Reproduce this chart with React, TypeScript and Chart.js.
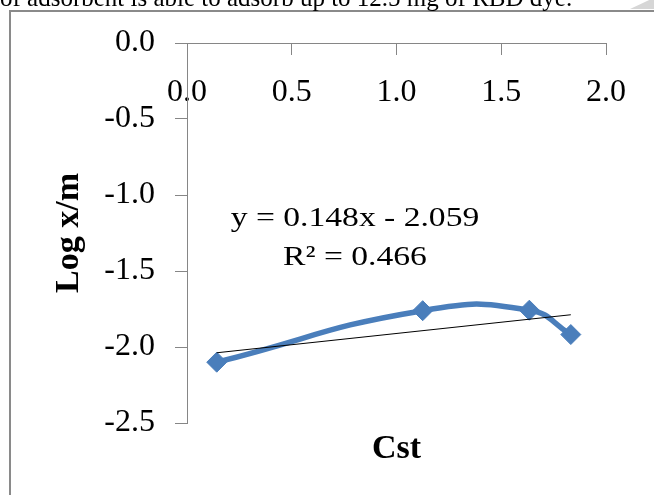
import React, { useEffect, useRef } from "react";
import { Chart, registerables } from "chart.js";

Chart.register(...registerables);

// ---- data ----
const cstValues = [0.142, 1.125, 1.634, 1.832];
const logXmValues = [-2.1, -1.761, -1.758, -1.918];
const xTickValues = [0, 0.5, 1.0, 1.5, 2.0];
const yTickValues = [0, -0.5, -1.0, -1.5, -2.0, -2.5];
const trendSlope = 0.148;
const trendIntercept = -2.059;
const equationText = "y = 0.148x - 2.059";
const rSquaredText = "R\u00B2 = 0.466";
const xTitle = "Cst";
const yTitle = "Log x/m";
const captionText = "of adsorbent is able to adsorb up to 12.5 mg of RBD dye.";

const SERIF = "'Liberation Serif', 'Times New Roman', serif";
const AXIS_GRAY = "#868686";
const BLUE = "#4A7EBB";

const textPlugin = {
  id: "extraTexts",
  afterDraw(chart: any) {
    const { ctx, chartArea } = chart;
    ctx.save();
    ctx.fillStyle = "#000";
    // caption (cut off at top of page)
    ctx.font = `25px ${SERIF}`;
    ctx.textAlign = "left";
    ctx.textBaseline = "alphabetic";
    ctx.fillText(captionText, 0, 6);

    // x title
    ctx.font = `bold 34px ${SERIF}`;
    ctx.textAlign = "center";
    ctx.fillText(xTitle, (chartArea.left + chartArea.right) / 2, 458);

    // y title
    ctx.save();
    ctx.translate(78, (chartArea.top + chartArea.bottom) / 2);
    ctx.rotate(-Math.PI / 2);
    ctx.fillText(yTitle, 0, 0);
    ctx.restore();

    // trendline equation
    ctx.font = `28px ${SERIF}`;
    ctx.textAlign = "center";
    const cx = 355;
    ctx.save();
    ctx.translate(cx, 226);
    ctx.scale(1.2, 1);
    ctx.fillText(equationText, 0, 0);
    ctx.restore();
    ctx.save();
    ctx.translate(cx, 265);
    ctx.scale(1.2, 1);
    ctx.fillText(rSquaredText, 0, 0);
    ctx.restore();

    ctx.restore();
  },
};

export default function App() {
  const canvasRef = useRef<HTMLCanvasElement | null>(null);

  useEffect(() => {
    if (!canvasRef.current) return;
    const xMin = Math.min(...cstValues);
    const xMax = Math.max(...cstValues);
    const trendData = [
      { x: xMin, y: trendSlope * xMin + trendIntercept },
      { x: xMax, y: trendSlope * xMax + trendIntercept },
    ];
    const points = cstValues.map((x, i) => ({ x, y: logXmValues[i] }));

    const chart = new Chart(canvasRef.current, {
      type: "scatter",
      data: {
        datasets: [
          {
            label: "Linear",
            data: trendData,
            showLine: true,
            borderColor: "#000",
            borderWidth: 1,
            pointRadius: 0,
            tension: 0,
            order: 0,
          },
          {
            label: "Log x/m",
            data: points,
            showLine: true,
            borderColor: BLUE,
            backgroundColor: BLUE,
            borderWidth: 5.5,
            pointStyle: "rectRot",
            pointRadius: 10,
            pointBorderWidth: 1,
            pointBorderColor: BLUE,
            pointBackgroundColor: BLUE,
            tension: 0.5,
            order: 1,
          },
        ],
      },
      options: {
        animation: false,
        responsive: false,
        maintainAspectRatio: false,
        layout: { padding: { left: 0, top: 43, right: 48, bottom: 72 } },
        plugins: {
          legend: { display: false },
          tooltip: { enabled: false },
          title: { display: false },
        },
        scales: {
          x: {
            type: "linear",
            min: 0,
            max: 2,
            position: { y: 0 } as any,
            afterBuildTicks: (s: any) => {
              s.ticks = xTickValues.map((v) => ({ value: v }));
            },
            ticks: {
              font: { family: SERIF, size: 32 },
              color: "#000",
              padding: 19,
              maxRotation: 0,
              autoSkip: false,
              callback: (v: any) => Number(v).toFixed(1),
            },
            grid: {
              drawOnChartArea: false,
              drawTicks: true,
              tickLength: 11,
              color: AXIS_GRAY,
              lineWidth: 1,
            },
            border: { color: AXIS_GRAY, width: 1 },
          },
          y: {
            type: "linear",
            min: -2.5,
            max: 0,
            position: "left",
            afterBuildTicks: (s: any) => {
              s.ticks = yTickValues.map((v) => ({ value: v }));
            },
            afterFit: (s: any) => {
              s.width = 187;
            },
            ticks: {
              font: { family: SERIF, size: 32 },
              color: "#000",
              padding: 20,
              autoSkip: false,
              callback: (v: any) => Number(v).toFixed(1),
            },
            grid: {
              drawOnChartArea: false,
              drawTicks: true,
              tickLength: 12,
              color: AXIS_GRAY,
              lineWidth: 1,
            },
            border: { color: AXIS_GRAY, width: 1 },
          },
        },
      },
      plugins: [textPlugin],
    });
    return () => chart.destroy();
  }, []);

  return (
    <div
      style={{
        position: "fixed",
        left: 0,
        top: 0,
        width: 654,
        height: 495,
        overflow: "hidden",
        background: "#fff",
      }}
    >
      <div
        style={{
          position: "absolute",
          left: 9,
          top: 10,
          width: 700,
          height: 600,
          borderLeft: "2px solid #8a8a8a",
          borderTop: "2px solid #8a8a8a",
        }}
      />
      <div
        style={{
          position: "absolute",
          left: 630,
          top: 0,
          width: 24,
          height: 9,
          background: "#d6d6d6",
          clipPath: "polygon(0 100%, 80% 0, 100% 0, 100% 100%)",
        }}
      />
      <canvas
        ref={canvasRef}
        width={654}
        height={495}
        style={{ position: "absolute", left: 0, top: 0, width: 654, height: 495 }}
      />
    </div>
  );
}
